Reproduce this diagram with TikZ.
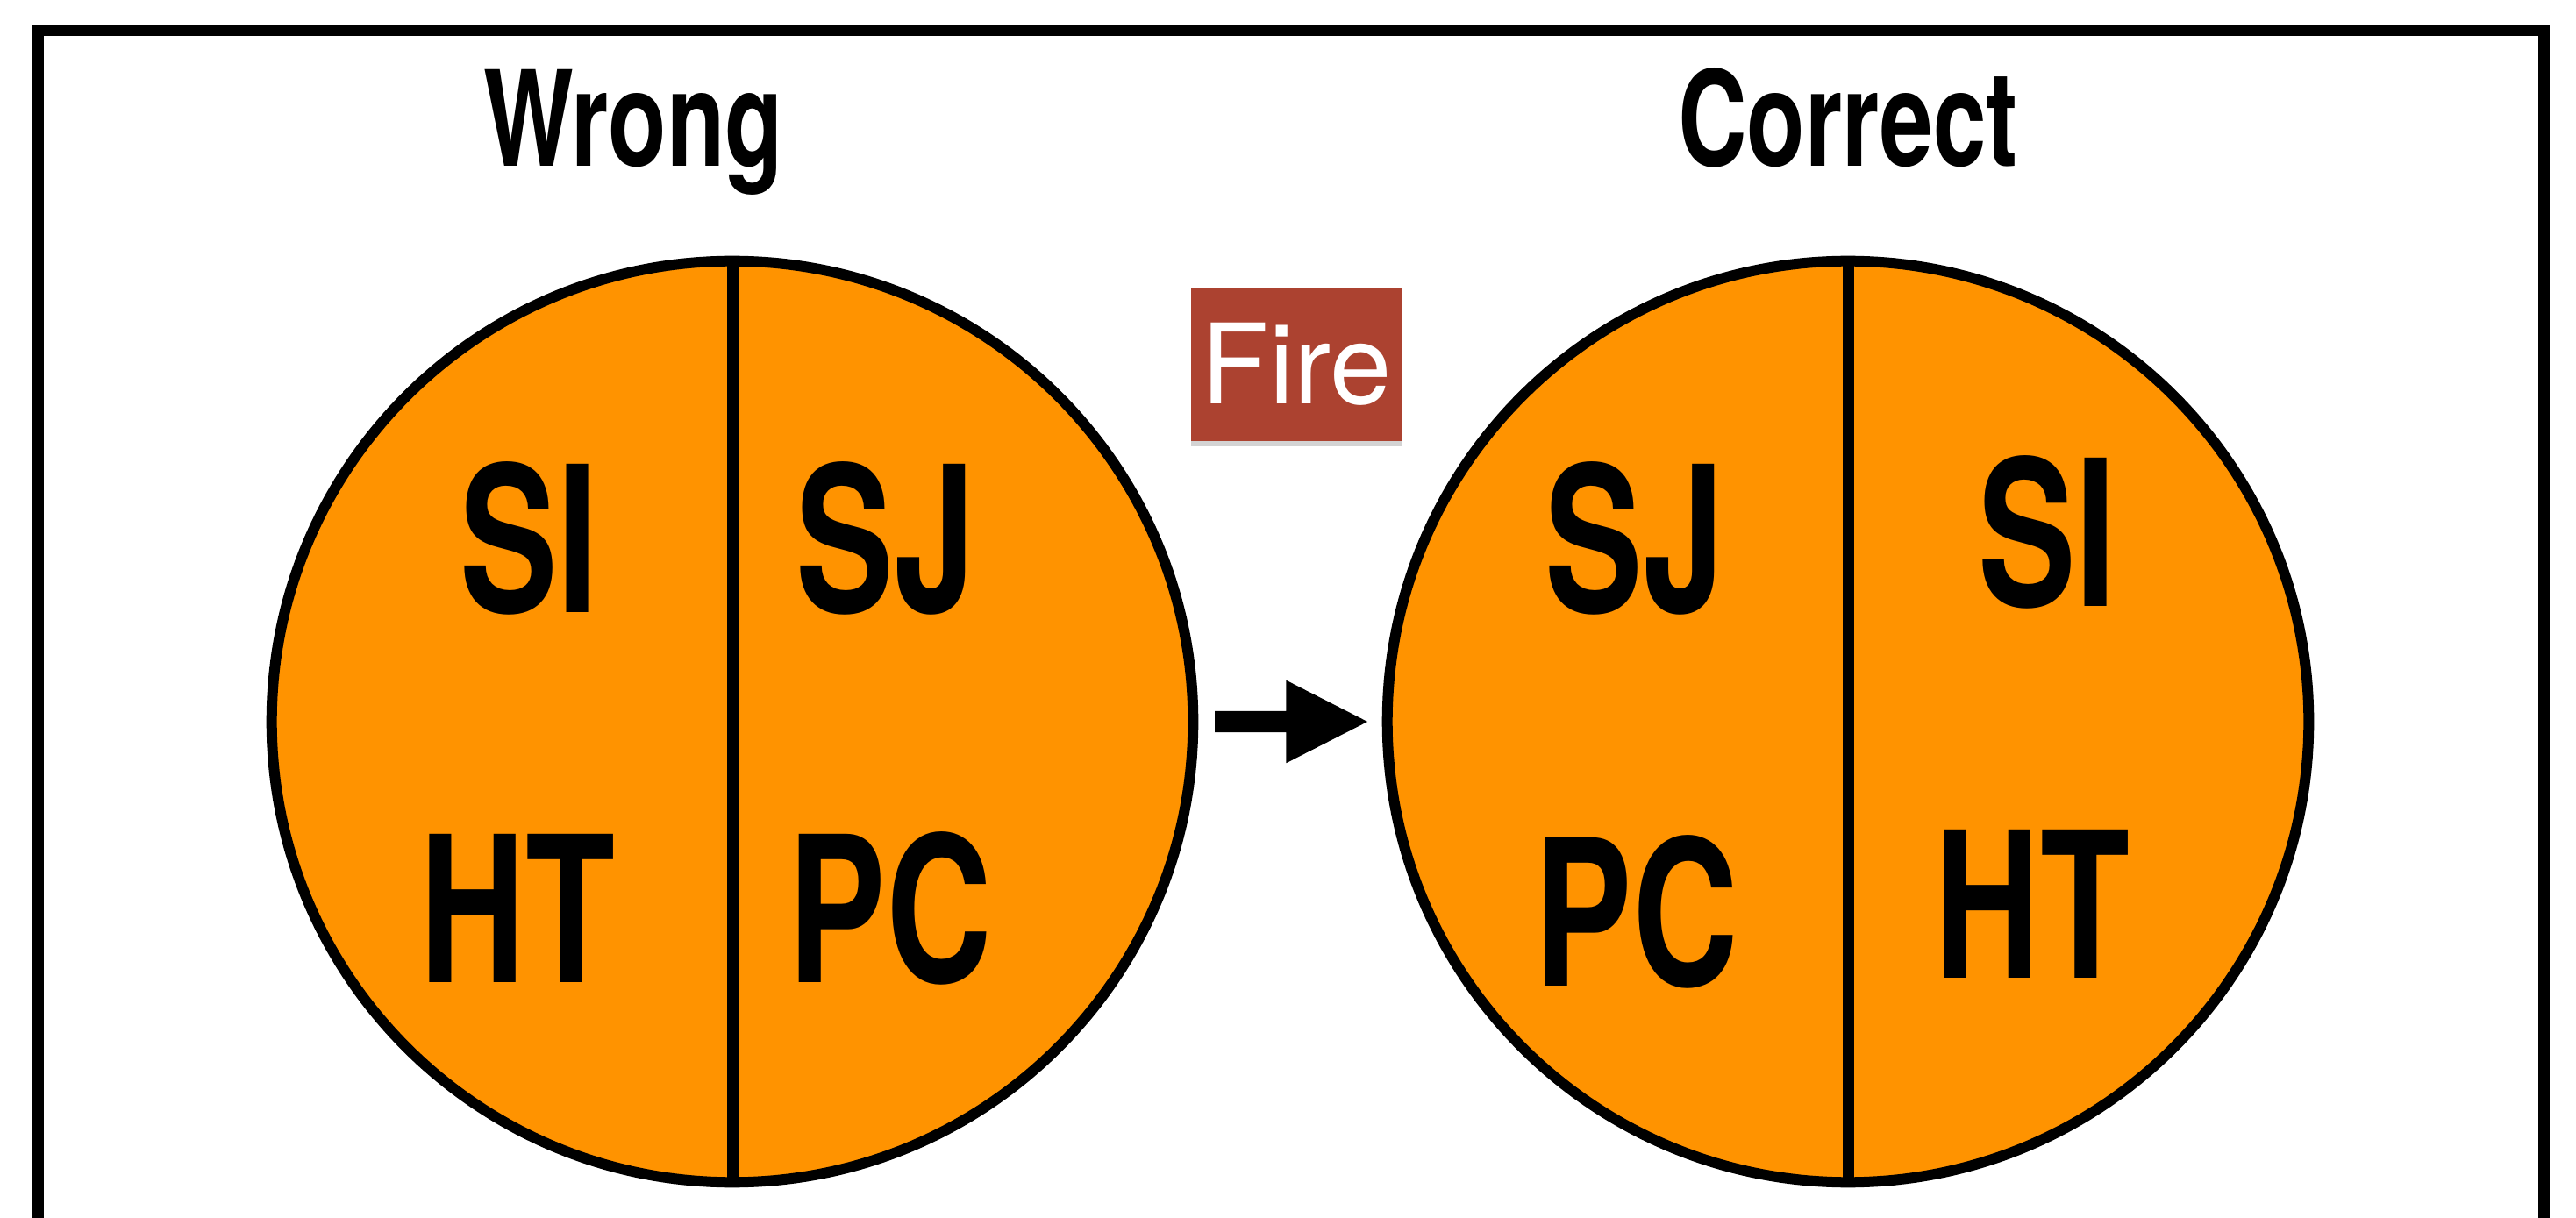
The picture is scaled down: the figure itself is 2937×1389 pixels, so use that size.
\documentclass[tikz,border=0pt]{standalone}
\usepackage{fontspec}
\usepackage{graphicx}
\setmainfont{TeX Gyre Heros}
\usetikzlibrary{shapes.arrows, positioning, calc, shadows}
\definecolor{slideorange}{RGB}{255, 147, 0}
\definecolor{firered}{RGB}{172, 66, 48}
\newcommand{\narrowtext}[1]{\scalebox{0.72}[1]{#1}}

\begin{document}
\begin{tikzpicture}[x=0.01cm, y=-0.01cm,
    pie/.style={circle, draw=black, fill=slideorange, line width=0.12cm, minimum size=10.5cm, inner sep=0pt},
    heading/.style={anchor=base, font=\fontsize{43}{43}\selectfont\bfseries},
    role/.style={anchor=base, font=\fontsize{66}{66}\selectfont\bfseries}]
    % Slide frame (bottom edge runs off the picture)
    \useasboundingbox (0,0) rectangle (2937,1389);
    \clip (0,0) rectangle (2937,1389);
    \draw[line width=0.13cm] (43.5,1500) -- (43.5,34.5) -- (2900.5,34.5) -- (2900.5,1500);

    % The two circles, each split in half
    \node[pie] (wrong) at (835,823) {};
    \node[pie] (correct) at (2107,823) {};
    \draw[line width=0.13cm] (wrong.north) -- (wrong.south);
    \draw[line width=0.13cm] (correct.north) -- (correct.south);

    % Headings
    \node[heading] (wronghead) at (722,190) {\narrowtext{Wrong}};
    \node[heading] (correcthead) at (2107,190) {\narrowtext{Correct}};

    % Roles - wrong order
    \node[role] (wsi) at (603,699) {\narrowtext{SI}};
    \node[role] (wsj) at (1010,699) {\narrowtext{SJ}};
    \node[role] (wht) at (590,1120) {\narrowtext{HT}};
    \node[role] (wpc) at (1015,1120) {\narrowtext{PC}};

    % Roles - correct order
    \node[role] (csj) at (1864,699) {\narrowtext{SJ}};
    \node[role] (csi) at (2334,692) {\narrowtext{SI}};
    \node[role] (cpc) at (1866,1124) {\narrowtext{PC}};
    \node[role] (cht) at (2317,1115) {\narrowtext{HT}};

    % Fire tag and the arrow
    \node[fill=firered, text=white, minimum width=2.34cm, minimum height=1.75cm,
          drop shadow={shadow xshift=0cm, shadow yshift=-0.06cm, opacity=0.35},
          font=\fontsize{36}{36}\selectfont] (fire) at (1478,415.5) {Fire};
    \node[single arrow, fill=black, inner xsep=0pt, inner ysep=0.115cm,
          minimum height=1.74cm, single arrow head extend=0.35cm,
          single arrow tip angle=54, anchor=tail] (swap) at ($(wrong.east)+(18,0)$) {};
\end{tikzpicture}
\end{document}
